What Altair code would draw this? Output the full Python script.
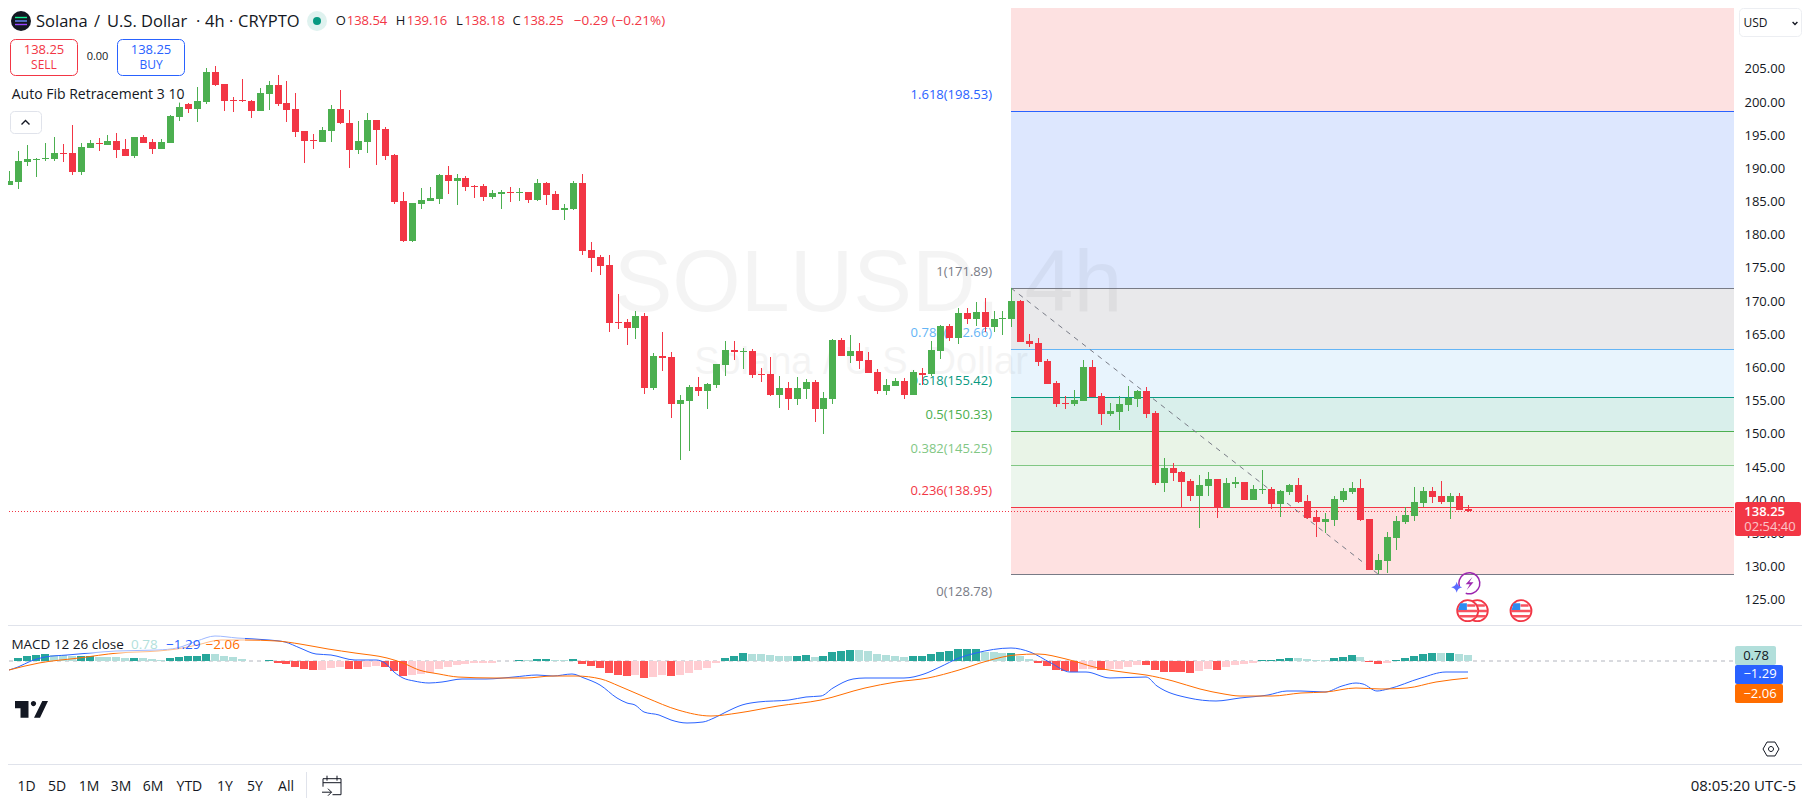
import altair as alt
import pandas as pd

# ---------- candle data (USD) ----------
highs = [189.55,192.56,193.47,191.51,193.77,194.67,193.62,196.48,193.77,194.22,
194.52,194.97,195.27,194.37,194.67,194.97,194.37,194.37,197.99,199.95,
199.80,202.21,205.07,205.37,202.66,200.70,203.41,200.25,202.06,203.11,
204.02,203.11,201.30,195.58,195.12,196.18,199.49,201.76,198.74,197.08,
198.29,197.23,196.18,192.11,186.38,184.72,186.98,187.14,189.09,190.30,
189.09,188.79,187.44,187.59,186.68,
186.68,187.14,186.98,186.38,188.34,187.89,186.53,184.57,188.04,189.10,
178.85,176.89,176.89,171.01,167.24,168.45,168.15,162.12,165.28,162.27,
155.78,157.29,158.50,157.59,160.46,163.92,163.92,162.87,162.72,159.85,
161.51,158.65,157.74,158.50,158.19,158.04,156.24,164.22,164.37,164.83,
163.62,162.26,159.70,158.19,158.35,158.35,159.55,159.85,163.92,166.33,
166.48,168.90,168.90,169.80,170.40,168.44,168.44,171.91,170.10,164.98,
164.37,161.21,157.89,155.64,156.54,161.06,161.06,156.09,154.58,155.64,
157.14,156.54,156.99,153.37,146.29,145.54,144.33,143.13,143.73,144.18,
143.13,143.28,143.43,142.67,142.22,144.48,141.92,141.47,142.37,143.28,
140.72,138.45,138.00,140.56,141.77,142.67,143.13,137.10,131.82,135.14,
137.55,138.91,141.92,141.92,141.92,142.82,141.02,141.02,139.16]
body_tops = [188.04,191.05,191.36,191.36,191.51,192.26,192.26,192.26,193.16,193.77,
193.77,194.07,194.07,192.86,194.67,194.67,193.92,193.92,197.84,199.19,
199.65,200.10,204.47,204.47,202.66,200.25,200.25,200.10,201.30,202.51,
202.51,199.80,198.89,195.58,194.22,195.73,198.89,198.89,196.78,194.07,
197.23,197.23,195.88,191.96,185.03,184.72,185.18,185.48,188.94,188.94,
188.49,188.49,187.29,187.29,186.23,
186.38,186.38,186.38,186.38,187.74,187.74,186.08,183.97,187.74,187.74,
177.64,176.59,175.38,166.79,166.79,167.70,167.70,161.67,161.67,161.52,
155.03,156.99,156.99,157.44,160.46,162.57,162.57,162.41,162.41,158.95,
158.95,156.84,156.84,156.84,157.74,157.74,155.33,164.07,164.07,162.41,
162.41,161.06,159.25,157.29,157.89,157.89,159.25,159.10,162.57,166.18,
166.18,168.14,168.14,168.29,168.29,167.24,167.39,169.95,169.95,163.92,
163.62,160.91,157.59,154.58,155.03,160.01,160.01,155.64,153.37,154.43,
155.33,156.39,156.39,153.07,144.78,144.78,144.18,142.82,142.22,143.13,
143.13,142.52,142.67,142.67,141.62,141.62,141.62,141.32,142.22,142.22,
139.81,137.40,137.10,140.11,141.32,141.77,141.77,137.10,130.92,134.39,
136.80,137.70,139.66,141.32,141.32,140.56,140.56,140.56,138.54]
body_bots = [187.44,187.89,190.90,191.20,191.36,191.36,192.11,189.40,189.40,193.01,
193.62,193.47,192.71,191.81,191.81,193.77,192.86,192.86,193.77,197.69,
198.89,198.89,199.95,202.51,200.10,200.10,200.10,198.59,198.59,201.15,
199.65,198.74,195.42,194.07,194.07,193.92,195.58,196.78,192.71,192.71,
193.92,195.73,191.81,184.87,179.00,179.00,184.57,185.03,185.33,188.04,
188.04,187.14,187.14,185.63,185.63,
186.08,186.23,186.23,185.18,185.18,185.93,183.67,183.67,183.82,177.49,
176.44,175.23,166.64,166.64,165.89,165.89,156.84,156.84,161.37,154.43,
154.43,154.88,156.39,156.39,157.29,160.30,162.26,162.26,158.80,158.80,
155.78,155.78,155.18,155.18,156.69,153.67,153.67,155.18,161.66,161.66,
160.91,159.10,156.39,156.39,157.14,155.78,155.78,158.80,158.95,162.41,
164.37,164.37,167.24,167.24,166.03,166.03,167.24,167.24,163.77,163.47,
160.76,157.44,154.43,154.43,154.43,154.88,155.48,152.92,152.92,153.22,
154.28,155.18,152.92,142.52,142.52,144.03,142.67,140.56,140.56,142.07,
138.91,138.76,142.37,139.96,139.96,141.47,139.36,139.36,141.17,139.66,
137.25,136.65,136.65,136.95,139.96,141.17,136.95,129.41,129.41,130.77,
134.24,136.65,137.55,139.51,140.41,139.66,139.66,138.45,138.25]
lows = [187.44,186.83,190.30,188.64,191.05,191.05,190.90,188.94,188.94,193.01,
192.56,193.47,191.51,191.81,191.51,193.77,192.11,192.86,193.77,197.08,
198.29,196.93,199.65,202.36,198.59,198.44,199.95,197.54,198.59,198.74,
199.34,196.93,194.67,190.75,192.86,193.92,193.92,196.63,190.00,192.11,
192.26,190.45,191.20,184.57,178.85,178.85,183.82,185.03,184.57,186.08,
184.42,186.53,185.48,185.03,185.33,
183.82,184.88,185.03,184.72,185.03,184.42,183.67,182.16,183.67,176.89,
174.33,173.88,165.28,165.74,163.32,164.23,155.94,156.54,159.41,152.32,
145.99,147.34,155.63,153.67,156.84,158.65,161.06,159.70,158.35,157.74,
155.63,153.82,153.52,154.28,155.18,151.71,149.90,154.43,161.66,160.61,
159.70,159.10,155.93,155.78,157.14,155.18,155.78,157.29,158.65,161.21,
163.92,163.47,166.48,166.18,165.28,165.28,164.83,166.03,163.77,163.02,
160.15,157.44,153.97,153.67,154.13,154.88,155.48,151.26,152.62,150.51,
153.37,153.98,152.32,142.22,141.17,142.82,138.91,139.81,135.74,140.56,
137.25,138.76,141.77,139.96,139.96,140.87,138.61,137.40,140.72,139.51,
137.10,134.39,134.99,136.04,139.66,140.87,136.80,129.41,128.81,128.96,
132.43,136.35,136.80,138.91,139.51,139.36,137.10,138.45,138.18]
directions = ("GGGGGGRRGG" "RGRRGRRGGG" "RGGRRRRRGG" "RRRRRGGRRG" "GRRRRGGGGR"
              "GRRRGGRGRG" "RRGGRRRRRR" "GRGRRGGRGG" "GRGRRRGRGG" "RGGRGRRRGG"
              "RGRGGRGRGR" "GGGRRRRRRG" "GRRGGGGRRG" "RRRGGRGGRG" "GRGGRRRGGG"
              "GRRGGGGGGR" "RGRR")

# ---------- MACD data ----------
hist = [.04,.46,.71,.83,.96,.83,.75,.71,.67,.71,.58,.50,.50,.42,.42,.42,.25,.17,.46,.58,
.63,.63,.92,.92,.67,.50,.25,.08,.04,.21,
-.21,-.33,-.71,-.96,-1.08,-1.08,-.83,-.71,-.96,-.96,-.71,-.58,-.71,-1.21,-1.83,-1.71,-1.58,-1.46,-.96,-.71,
-.46,-.33,-.21,-.21,-.17,.02,.08,.21,.13,.33,.29,.17,.17,.29,-.33,-.58,-.83,-1.46,-1.71,
-1.83,-1.71,-2.08,-1.96,-1.71,-1.83,-1.71,-1.46,-1.08,-.83,-.17,
.42,.67,1.04,.92,.92,.79,.67,.67,.67,.79,.54,.67,1.17,1.29,1.42,1.42,1.29,.92,.79,.67,.54,.67,.67,.92,1.17,
1.29,1.54,1.54,1.54,1.17,1.13,1.04,1.04,.67,.29,
-.17,-.54,-1.08,-1.21,-1.33,-.96,-.96,-1.08,-.96,-.96,-.71,-.46,-.46,-1.08,-1.33,-1.33,-1.33,-1.46,-1.21,-.96,-1.08,-.71,-.46,
-.33,-.21,.17,.17,.29,.42,.42,.29,.17,.17,.42,.54,.79,.54,-.08,-.33,-.21,.17,.42,.67,.92,1.04,1.04,1.04,.92,.78]
hist_kind = ("tTTTTtttTTttttTtttTTTTTttttttT"
             "RRRRRrrrRRrrRRRrrrrrrrrrrtTTtTTttTRRRRR"
             "RrRrrRrrrrr"
             "TTTtttttTTtTTTTttttttTTTTTTTTtttTtt"
             "RRRRRrrRrrrrRRRRRRrrRrr"
             "rrTTTTttttTTTtRRrTTTTTtTtt")
macd_bar = [0,1,2.5,4,6.5,9,12,16.6,18.8,21,23,25.5,29,30.8,32.5,34.3,36,38.7,41,42,43,44,45.3,46.9,48.4,50.6,53.3,56.4,59,60.8,62.9,64.3,66,67.9,
69.1,70,70.9,72.6,74,75.7,77.5,78.8,80.1,81.9,83.7,87.2,89,90.7,92.1,94.3,95.6,100,102.2,104,106.2,108,112,114.1,116.4,118.6,120.3,123,127,128.3,131.8,134.9,137.5,
140.7,142.8,144.4,147,148.9,150.5,151.3,152.9,154.1,157.8,160.6,163]
macd_val = [-1.08,-.67,.08,.50,.79,1.00,1.29,1.42,1.63,2.58,3.17,2.96,2.67,2.46,1.63,.88,.79,.17,.17,-.25,-1.29,-2.13,-2.46,-2.75,-2.63,-2.25,-2.17,-2.00,-1.71,-1.79,-1.54,-2.13,-2.96,-4.63,
-5.17,-5.42,-6.29,-6.71,-7.33,-7.75,-7.58,-7.13,-6.29,-5.42,-5.04,-4.83,-4.42,-4.33,-3.38,-2.25,-2.04,-2.04,-1.58,-.67,.38,1.08,1.71,1.21,-.25,-1.29,-1.29,-2.13,-2.00,-3.04,-4.54,-4.92,-4.63,
-4.25,-3.71,-3.67,-3.79,-3.08,-2.75,-2.88,-3.67,-3.50,-2.04,-1.38,-1.29]
signal_bar = [0,3.4,7.8,12.2,16.6,18.8,21,23.7,26.3,29.9,32.5,35.6,38.7,42.2,44,45.8,48,50.2,54.2,57.7,60.8,63.4,66.1,68.2,71.3,74.8,78.4,81.5,85.9,90.7,95.6,99.1,102.7,106.2,109.3,112.4,115,118.1,121.7,125.2,127,130,133.1,135.8,137.5,141.1,144.4,147.2,150.5,153.3,156.2,159.4,163]
signal_val = [-1.08,-.25,.38,1.00,1.33,1.50,2.04,2.67,2.67,2.58,2.17,1.50,1.00,.38,-.25,-1.08,-1.63,-2.00,-2.13,-2.08,-1.83,-1.79,-2.25,-3.04,-4.54,-6.08,-6.88,-6.42,-5.58,-4.88,-3.29,-2.54,-2.13,-1.08,.08,.83,.92,.25,-.79,-1.50,-1.67,-2.46,-3.46,-4.13,-4.29,-4.33,-4.00,-3.83,-3.38,-3.50,-3.29,-2.54,-2.06]

# ---------- fib levels, ticks ----------
fib_ratio = ["1.618","1","0.786","0.618","0.5","0.382","0.236","0"]
fib_price = [198.53,171.89,162.66,155.42,150.33,145.25,138.95,128.78]
fib_line = ["#2962ff","#787b86","#64b5f6","#089981","#4caf50","#81c784","#f23645","#787b86"]
band_fill = ["#fde1e1","#dde7fe","#e9e9eb","#e8f4fd","#d9efeb","#e9f4e7","#ecf6ed","#fee1e1"]
price_ticks = [205,200,195,190,185,180,175,170,165,160,155,150,145,140,135,130,125]
date_bars = [11,23,35,53,66,78,90,102,114,126,138,150,162,174,186]
date_text = ["25","27","29","Nov","3","5","7","9","11","13","15","17","19","21","23"]
periods = ["1D","5D","1M","3M","6M","YTD","1Y","5Y","All"]
period_x = [26.5,57,89,121,153,189.4,225,255,286]

FONT = "Open Sans"
INK = "#131722"
RED = "#f23645"
GREEN = "#4caf50"
BLUE = "#2962ff"
ORANGE = "#ff6d00"
W, H = 1794, 794

xs = alt.Scale(domain=[0, 200], range=[1, 1791], round=True)
ps = alt.Scale(domain=[94.43, 214.114], range=[794, 0], round=True)
ms = alt.Scale(domain=[-10, 10], range=[733.3, 573.3], round=True)

n = len(highs)
up = [d == "G" for d in directions]
opens = [b if u else t for t, b, u in zip(body_tops, body_bots, up)]
closes = [t if u else b for t, b, u in zip(body_tops, body_bots, up)]
candles = pd.DataFrame({
    "i": range(n), "high": highs, "low": lows, "open": opens, "close": closes,
    "col": [GREEN if u else RED for u in up],
})
hist_col = {"T": "#26a69a", "t": "#b2dfdb", "R": "#ff5252", "r": "#ffcdd2"}
hdf = pd.DataFrame({"i": range(n), "v": hist, "z": [0] * n, "col": [hist_col[k] for k in hist_kind]})
mdf = pd.DataFrame({"i": macd_bar, "v": macd_val})
sdf = pd.DataFrame({"i": signal_bar, "v": signal_val})

BAND_L, BAND_R = 112, 192.7
top_edge = [214.114] + fib_price[:-1]
bands = pd.DataFrame({"x0": BAND_L, "x1": BAND_R, "p0": top_edge, "p1": fib_price, "col": band_fill})
fibs = pd.DataFrame({"x0": BAND_L, "x1": BAND_R, "p": fib_price, "col": fib_line,
                     "label": [f"{r}({p:.2f})" for r, p in zip(fib_ratio, fib_price)],
                     "lx": 109.8})
trend = pd.DataFrame({"i": [112, 153], "p": [171.89, 128.78]})
one = pd.DataFrame({"k": [0]})

X = lambda f="i": alt.X(f"{f}:Q", scale=xs, axis=None)
Yp = lambda f: alt.Y(f"{f}:Q", scale=ps, axis=None)
Ym = lambda f: alt.Y(f"{f}:Q", scale=ms, axis=None)
C = alt.Color("col:N", scale=None, legend=None)


def tx(x, y, s, color=INK, size=13, align="left", weight=400, font=FONT, opacity=1.0):
    return alt.Chart(one).mark_text(align=align, baseline="middle", fontSize=size, font=font,
                                    fontWeight=weight, color=color, opacity=opacity).encode(
        x=alt.value(x - 8), y=alt.value(y - 8), text=alt.value(s))


def box(x0, y0, x1, y1, fill="#ffffff", stroke=None, radius=0, opacity=1.0):
    kw = dict(fill=fill, cornerRadius=radius, opacity=opacity)
    if stroke:
        kw.update(stroke=stroke, strokeWidth=1)
    return alt.Chart(one).mark_rect(**kw).encode(x=alt.value(x0 - 8), x2=alt.value(x1 - 8),
                                                 y=alt.value(y0 - 8), y2=alt.value(y1 - 8))


def dot(x, y, r, color, opacity=1.0):
    return alt.Chart(one).mark_point(shape="circle", filled=True, size=(2 * r) ** 2, color=color,
                                     opacity=opacity, strokeWidth=0).encode(x=alt.value(x - 8), y=alt.value(y - 8))


def glyph(x, y, r, path, fill=None, stroke=None, sw=1.0):
    kw = dict(shape=path, size=(2 * r) ** 2, opacity=1)
    if fill:
        kw.update(filled=True, fill=fill, strokeWidth=0)
    else:
        kw.update(filled=False, stroke=stroke, strokeWidth=sw)
    return alt.Chart(one).mark_point(**kw).encode(x=alt.value(x - 8), y=alt.value(y - 8))


def ring(x, y, r, color, sw, fill="#ffffff"):
    return alt.Chart(one).mark_point(shape="circle", filled=True, size=(2 * r) ** 2, fill=fill, stroke=color,
                                     strokeWidth=sw, opacity=1).encode(x=alt.value(x - 8), y=alt.value(y - 8))


def hline(x0, x1, y, color="#e0e3eb"):
    return box(x0, y, x1, y + 1, fill=color)


layers = []
# fib bands + price axis
layers.append(alt.Chart(bands).mark_rect().encode(
    x=X("x0"), x2="x1",
    y=alt.Y("p0:Q", scale=ps, axis=alt.Axis(orient="left", offset=-1736, domain=False, ticks=False, grid=False,
            title=None, values=price_ticks, format=".2f", labelAlign="left", labelBaseline="middle", labelPadding=0,
            labelFont=FONT, labelFontSize=13, labelColor=INK, labelOverlap=False)),
    y2="p1", fill=alt.Fill("col:N", scale=None, legend=None)))
# watermark
layers.append(tx(868, 285, "SOLUSD, 4h", color="#000000", size=88, align="center", font="Liberation Sans", opacity=0.04))
layers.append(tx(861, 363, "Solana / U.S. Dollar", color="#000000", size=38, align="center", font="Liberation Sans", opacity=0.04))
# fib lines and labels
layers.append(alt.Chart(fibs).mark_rule(strokeWidth=1, yOffset=0.5).encode(x=X("x0"), x2="x1", y=Yp("p"), color=C))
fib_off = alt.Chart(fibs[fibs.p > 130]).mark_text(align="right", baseline="middle", font=FONT, fontSize=13, dy=-16).encode(
    x=X("lx"), y=Yp("p"), text="label:N", color=C)
layers.append(fib_off)
layers.append(alt.Chart(fibs[fibs.p < 130]).mark_text(align="right", baseline="middle", font=FONT, fontSize=13, dy=18).encode(
    x=X("lx"), y=Yp("p"), text="label:N", color=C))
# trend line and current-price line
layers.append(alt.Chart(trend).mark_line(color="#787b86", strokeWidth=1, strokeDash=[5, 5]).encode(x=X(), y=Yp("p")))
last = pd.DataFrame({"x0": [0.0], "x1": [BAND_R], "p": [closes[-1]]})
layers.append(alt.Chart(last).mark_rule(color=RED, strokeWidth=1, strokeDash=[1, 2], yOffset=0.5).encode(x=X("x0"), x2="x1", y=Yp("p")))
# candles
layers.append(alt.Chart(candles).mark_rule(strokeWidth=1, xOffset=0.5).encode(
    x=alt.X("i:Q", scale=xs, axis=alt.Axis(orient="bottom", offset=-54, domain=False, ticks=False, grid=False, title=None,
            values=date_bars,
            labelExpr="({" + ",".join(f"'{b}':'{t}'" for b, t in zip(date_bars, date_text)) + "})[''+datum.value]",
            labelBaseline="middle", labelAlign="center", labelPadding=0, labelFont=FONT, labelFontSize=13, labelColor=INK,
            labelOverlap=False, labelFlush=False,
            labelFontWeight=alt.expr("datum.value == 53 ? 600 : 400"))),
    y=Yp("high"), y2="low", color=C))
layers.append(alt.Chart(candles).mark_rule(strokeWidth=7, xOffset=0.5).encode(x=X(), y=Yp("open"), y2="close", color=C))
# MACD
layers.append(alt.Chart(hdf).mark_rule(strokeWidth=8).encode(x=X(), y=Ym("v"), y2="z", color=C))
zero = pd.DataFrame({"x0": [0.0], "x1": [BAND_R], "z": [0.0]})
layers.insert(-1, alt.Chart(zero).mark_rule(color="#b2b5be", strokeWidth=1, strokeDash=[4, 4]).encode(x=X("x0"), x2="x1", y=Ym("z")))
layers.append(alt.Chart(mdf).mark_line(color=BLUE, strokeWidth=1, interpolate="monotone").encode(x=X(), y=Ym("v")))
layers.append(alt.Chart(sdf).mark_line(color=ORANGE, strokeWidth=1, interpolate="monotone").encode(x=X(), y=Ym("v")))
# legend backdrops
layers.append(box(8, 635, 245, 653, opacity=0.55))
layers.append(box(8, 85, 184, 103, opacity=0.6))

# separators
layers += [hline(8, 1802, 625), hline(8, 1802, 764)]

# header
layers += [dot(21, 21, 10, "#131722")]
for yy, cc in [(17.5, "#14f195"), (21, "#6b8cff"), (24.5, "#9945ff")]:
    layers.append(box(15, yy - 0.7, 27, yy + 0.7, fill=cc))
for hx, piece in [(36, "Solana"), (94, "/"), (107, "U.S. Dollar"), (196, "·"), (205, "4h"), (229, "·"), (238, "CRYPTO")]:
    layers.append(tx(hx, 21.5, piece, size=16.5))
layers += [dot(317, 21, 10, "#089981", opacity=0.13), dot(317, 21, 4, "#089981")]
for lab, vx, val, lx in [("O", 335.7, "138.54", 346.7), ("H", 395.7, "139.16", 406.7),
                         ("L", 456, "138.18", 464.3), ("C", 512.5, "138.25", 523)]:
    layers += [tx(vx, 21, lab), tx(lx, 21, val, color=RED)]
layers.append(tx(573.7, 21, "−0.29 (−0.21%)", color=RED, size=13.5))

layers += [box(10.5, 39.5, 77.5, 75.5, stroke=RED, radius=5), box(117.5, 39.5, 184.5, 75.5, stroke=BLUE, radius=5)]
layers += [tx(44, 49.5, "138.25", color=RED, align="center"), tx(44, 64.5, "SELL", color=RED, size=12, align="center"),
           tx(97.5, 57, "0.00", size=11, align="center"),
           tx(151, 49.5, "138.25", color=BLUE, align="center"), tx(151, 64.5, "BUY", color=BLUE, size=12, align="center")]
layers.append(tx(11.7, 94.5, "Auto Fib Retracement 3 10", size=14))
layers += [box(10.5, 111.5, 41.5, 133.5, stroke="#e0e3eb", radius=4),
           glyph(25.5, 122.5, 4, "M-1,.5L0,-.5L1,.5", stroke=INK, sw=1.4)]

# price side
layers += [box(1739.5, 8.5, 1801.5, 36.5, stroke="#eceef2", radius=4),
           tx(1743.5, 23, "USD", size=12), glyph(1795, 23, 3, "M-.8,-.3L0,.5L.8,-.3", stroke=INK, sw=1.4)]
layers += [box(1735, 502, 1801, 536, fill=RED, radius=2),
           tx(1744.3, 511.7, "138.25", color="#ffffff", weight=600),
           tx(1744.3, 526.7, "02:54:40", color="#ffffff", opacity=0.7)]
layers += [box(1735, 646, 1776, 665, fill="#b2dfdb", radius=2), tx(1756, 655.7, "0.78", align="center"),
           box(1735, 665, 1783, 684, fill=BLUE, radius=2), tx(1760, 674, "−1.29", color="#ffffff", align="center"),
           box(1735, 684, 1783, 703, fill=ORANGE, radius=2), tx(1760, 693.7, "−2.06", color="#ffffff", align="center")]

# event icons
star = "M0,-1Q.15,-.15 1,0Q.15,.15 0,1Q-.15,.15 -1,0Q-.15,-.15 0,-1Z"
layers += [glyph(1469.3, 583.3, 10.5, "M-.94,.34A1,1 0 1 1 -.34,.94", stroke="#9c27b0", sw=1.5),
           glyph(1469.3, 583.3, 10.5, "M.3,-.6L-.35,.1H.05L-.25,.65L.4,-.1H0Z", fill="#9c27b0"),
           glyph(1456.7, 587.3, 5.5, star, fill="#5b6cff")]
stripes = "M-.95,-.1H.95V.14H-.95ZM-.8,.4H.8V.64H-.8ZM-.05,-.62H.72V-.38H-.05Z"
canton = "M-.72,-.7H-.08V-.06H-.9Z"
for fx in (1521, 1477.3, 1467.7):
    layers += [ring(fx, 610.7, 10.5, RED, 1.8), glyph(fx, 610.7, 10.5, stripes, fill="#f7525f"),
               glyph(fx, 610.7, 10.5, canton, fill="#2e8bf0")]

# MACD legend
layers += [tx(11.4, 644.5, "MACD 12 26 close", size=13.5), tx(131, 644.5, "0.78", color="#b2dfdb", size=13.5),
           tx(166, 644.5, "−1.29", color=BLUE, size=13.5), tx(205.6, 644.5, "−2.06", color=ORANGE, size=13.5)]

# TradingView logo
logo = ("M-.5,-.258H-.091V.248H-.333V-.036H-.5Z"
        "M.327,-.258H.5L.258,.248H.076Z"
        "M-.02,-.18A.08,.08 0 1 0 .14,-.18A.08,.08 0 1 0 -.02,-.18Z")
layers.append(glyph(31.5, 709.5, 33, logo, fill="#131722"))

# settings hexagon
layers += [glyph(1771, 749, 8, "M-.5,-.87H.5L1,0L.5,.87H-.5L-1,0Z", stroke=INK, sw=1),
           glyph(1771, 749, 2.5, "M-1,0A1,1 0 1 0 1,0A1,1 0 1 0 -1,0Z", stroke=INK, sw=1)]

# bottom toolbar
for s, px in zip(periods, period_x):
    layers.append(tx(px, 786.5, s, align="center", size=14))
layers.append(box(306, 772, 307, 798, fill="#e0e3eb"))
cal = "M-.9,.1V-.7H.9V.9H.05M-.9,-.3H.9M-.5,-1V-.5M.5,-1V-.5M-1,.65H-.05M-.4,.3L-.05,.65L-.4,1"
layers.append(glyph(332, 785.7, 10, cal, stroke=INK, sw=1))
layers.append(tx(1796, 786, "08:05:20 UTC-5", align="right", size=15))

chart = alt.layer(*layers).resolve_scale(y="independent").properties(
    width=W, height=H, padding=0,
    autosize=alt.AutoSizeParams(type="none", contains="padding"),
    background="#ffffff",
).configure_view(strokeWidth=0)

chart.save("out.html", embed_options={"renderer": "svg", "actions": False})
